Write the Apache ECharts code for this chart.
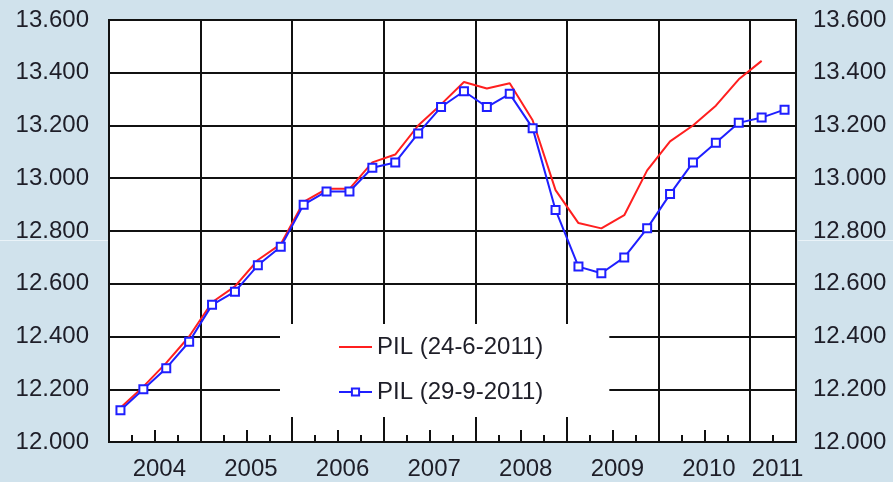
<!DOCTYPE html>
<html>
<head>
<meta charset="utf-8">
<script src="https://cdn.jsdelivr.net/npm/echarts@6/dist/echarts.min.js"></script>
<style>
html, body { margin: 0; padding: 0; background: #d0e2ec; }
#chart { width: 893px; height: 482px; }
</style>
</head>
<body>
<div id="chart"></div>
<script>
// quarters, 2004 Q1 .. 2011 Q2
var years = ['2004', '2005', '2006', '2007', '2008', '2009', '2010', '2011'];
var quartersPerYear = [4, 4, 4, 4, 4, 4, 4, 2];
var yTicks = { min: 12.0, max: 13.6, step: 0.2 };

var pilJune = [12.13, 12.21, 12.30, 12.40, 12.53, 12.59, 12.69, 12.75,
  12.91, 12.96, 12.96, 13.06, 13.09, 13.20, 13.28, 13.365,
  13.34, 13.36, 13.22, 12.955, 12.83, 12.81, 12.86, 13.03,
  13.14, 13.20, 13.275, 13.375, 13.445];
var pilSept = [12.12, 12.20, 12.28, 12.38, 12.52, 12.57, 12.67, 12.74,
  12.90, 12.95, 12.95, 13.04, 13.06, 13.17, 13.27, 13.33,
  13.27, 13.32, 13.19, 12.88, 12.665, 12.64, 12.70, 12.81,
  12.94, 13.06, 13.135, 13.21, 13.23, 13.26];

var names = ['PIL (24-6-2011)', 'PIL (29-9-2011)'];

var categories = [];
years.forEach(function (y, i) {
  for (var q = 1; q <= quartersPerYear[i]; q++) categories.push(y + ' T' + q);
});

var txt = '#1e1e28';
var fnt = 'Liberation Sans, Arial, sans-serif';
var fs = 24;

var chart = echarts.init(document.getElementById('chart'));
var option = {
  backgroundColor: '#d0e2ec',
  animation: false,
  grid: {
    left: 109, right: 97, top: 20, bottom: 40,
    show: true, backgroundColor: '#fff', borderColor: '#111', borderWidth: 2
  },
  legend: {
    orient: 'vertical',
    left: 280, top: 324,
    padding: [11, 66, 13, 58],
    itemGap: 21,
    itemWidth: 33, itemHeight: 9,
    backgroundColor: '#fff',
    textStyle: { fontSize: fs, color: txt, fontFamily: fnt },
    data: [
      { name: names[0], itemStyle: { color: 'rgba(0,0,0,0)', borderWidth: 0 } },
      { name: names[1] }
    ]
  },
  graphic: [
    { type: 'rect', left: 0, top: 240, shape: { width: 108, height: 1 }, style: { fill: '#eaf3f8' } },
    { type: 'rect', left: 798, top: 240, shape: { width: 95, height: 1 }, style: { fill: '#eaf3f8' } }
  ],
  xAxis: [{
    type: 'category',
    data: categories,
    boundaryGap: true,
    position: 'bottom',
    axisLine: { show: true, lineStyle: { color: '#111', width: 2 } },
    axisTick: { show: true, inside: true, length: 7, interval: 0, lineStyle: { color: '#111', width: 2 } },
    splitLine: {
      show: true,
      interval: function (i) { return i % 4 === 0; },
      lineStyle: { color: '#111', width: 2 }
    },
    axisLabel: {
      interval: function (i) { return i % 4 === 1 && i < 28 || i === 28; },
      formatter: function (v) { return v.slice(0, 4); },
      padding: [0, 0, 0, 32],
      margin: 15,
      fontSize: fs, color: txt, fontFamily: fnt
    }
  }, {
    type: 'category',
    data: categories,
    boundaryGap: true,
    position: 'bottom',
    axisLine: { show: false },
    axisTick: {
      show: true, inside: true, length: 12,
      interval: function (i) { return i % 4 === 2; },
      lineStyle: { color: '#111', width: 2 }
    },
    splitLine: { show: false },
    axisLabel: { show: false }
  }],
  yAxis: [{
    type: 'value',
    min: yTicks.min, max: yTicks.max, interval: yTicks.step,
    position: 'left',
    axisLine: { show: true, lineStyle: { color: '#111', width: 2 } },
    axisTick: { show: false },
    splitLine: { show: true, lineStyle: { color: '#111', width: 2 } },
    axisLabel: {
      margin: 20,
      formatter: function (v) { return v.toFixed(3); },
      fontSize: fs, color: txt, fontFamily: fnt
    }
  }, {
    type: 'value',
    min: yTicks.min, max: yTicks.max, interval: yTicks.step,
    position: 'right',
    axisLine: { show: true, lineStyle: { color: '#111', width: 2 } },
    axisTick: { show: false },
    splitLine: { show: false },
    axisLabel: {
      margin: 17,
      formatter: function (v) { return v.toFixed(3); },
      fontSize: fs, color: txt, fontFamily: fnt
    }
  }],
  series: [{
    name: names[0],
    type: 'line',
    data: pilJune,
    symbol: 'none',
    lineStyle: { color: '#ff1f1f', width: 2 },
    itemStyle: { color: '#ff1f1f' },
    z: 3
  }, {
    name: names[1],
    type: 'line',
    data: pilSept,
    symbol: 'rect',
    symbolSize: 8,
    showAllSymbol: true,
    lineStyle: { color: '#1f1fff', width: 2 },
    itemStyle: { color: '#fff', borderColor: '#1f1fff', borderWidth: 2 },
    z: 4
  }]
};
chart.setOption(option);
</script>
</body>
</html>
